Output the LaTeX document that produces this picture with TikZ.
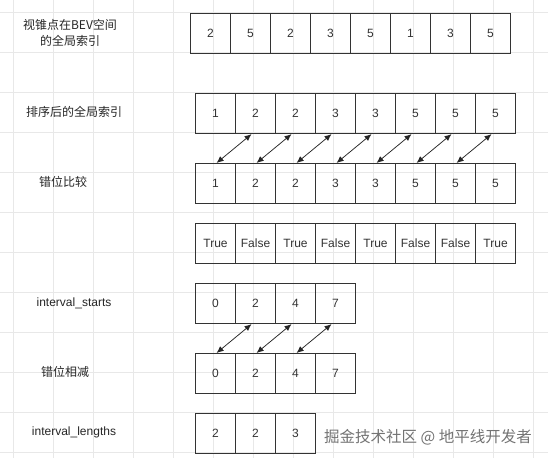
\documentclass[tikz,border=0pt]{standalone}
\usepackage{fontspec}
\setmainfont{Liberation Sans}
\newfontfamily\cjk{Noto Sans CJK SC}
\usetikzlibrary{arrows.meta}
\begin{document}
\begin{tikzpicture}[x=1pt,y=-1pt,
  cell/.style={draw=black!80, line width=1.1pt, minimum width=40pt, minimum height=40pt, inner sep=0pt, anchor=north west, font=\fontsize{12}{14}\selectfont, text=black!80},
  lbl/.style={font=\cjk\fontsize{12}{16}\selectfont, align=center, text=black!85},
  lbllat/.style={font=\fontsize{12}{16}\selectfont, text=black!85},
  dbl/.style={{Latex[length=7pt,width=6pt]}-{Latex[length=7pt,width=6pt]}, line width=0.75pt, draw=black!85},
  gridline/.style={draw=black!9, line width=0.8pt}]
\fill[white] (0,0) rectangle (548,458);
\useasboundingbox (0,0) rectangle (548,458);
\foreach \x in {13,53,...,533} \draw[gridline] (\x,0) -- (\x,458);
\foreach \y in {12,52,...,452} \draw[gridline] (0,\y) -- (548,\y);
% rows
\foreach \v [count=\i] in {2,5,2,3,5,1,3,5} \node[cell] (a\i) at ({190+40*(\i-1)},13) {\v};
\foreach \v [count=\i] in {1,2,2,3,3,5,5,5} \node[cell] (b\i) at ({195+40*(\i-1)},93) {\v};
\foreach \v [count=\i] in {1,2,2,3,3,5,5,5} \node[cell] (c\i) at ({195+40*(\i-1)},163) {\v};
\foreach \v [count=\i] in {True,False,True,False,True,False,False,True} \node[cell] (d\i) at ({195+40*(\i-1)},223) {\v};
\foreach \v [count=\i] in {0,2,4,7} \node[cell] (e\i) at ({195+40*(\i-1)},283) {\v};
\foreach \v [count=\i] in {0,2,4,7} \node[cell] (f\i) at ({195+40*(\i-1)},353) {\v};
\foreach \v [count=\i] in {2,2,3} \node[cell] (g\i) at ({195+40*(\i-1)},413) {\v};
% arrows
\foreach \i in {1,...,7}{\pgfmathtruncatemacro\j{\i+1}
  \draw[dbl] ([xshift=-4pt]b\j.south) -- ([xshift=1pt]c\i.north);}
\foreach \i in {1,...,3}{\pgfmathtruncatemacro\j{\i+1}
  \draw[dbl] ([xshift=-4pt]e\j.south) -- ([xshift=1pt]f\i.north);}
% labels
\node[lbl] (l1) at (70,33) {视锥点在BEV空间\\的全局索引};
\node[lbl] (l2) at (74,112) {排序后的全局索引};
\node[lbl] (l3) at (63,182) {错位比较};
\node[lbllat] (l5) at (74,303) {interval\_starts};
\node[lbl] (l6) at (65,372) {错位相减};
\node[lbllat] (l7) at (74,432) {interval\_lengths};
\node[font=\cjk\fontsize{15.5}{18}\selectfont, text=black!55] (wm) at (428,437) {掘金技术社区 @ 地平线开发者};
\end{tikzpicture}
\end{document}
